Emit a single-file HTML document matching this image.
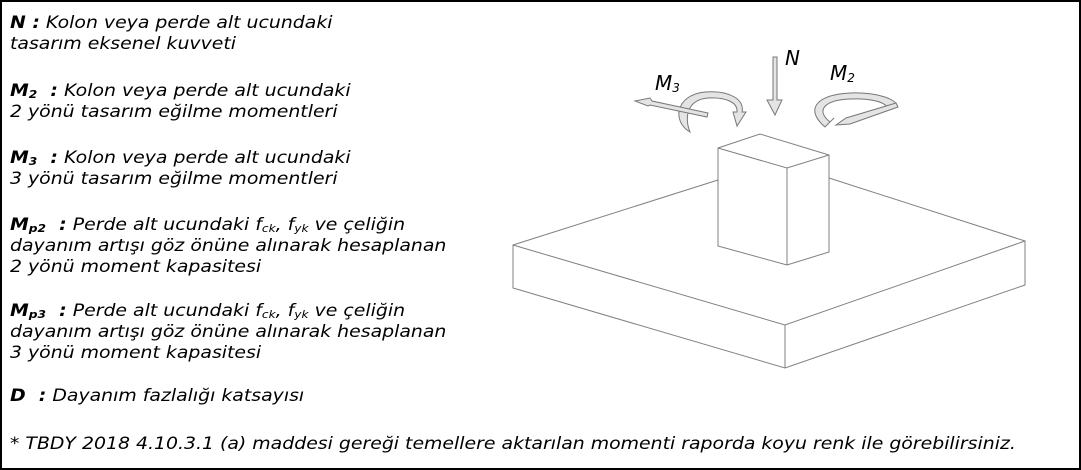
<!DOCTYPE html>
<html><head><meta charset="utf-8"><style>
html,body{margin:0;padding:0;background:#fff}
#c{position:relative;width:1081px;height:470px;overflow:hidden;background:#fff}
#frame{position:absolute;left:0;top:0;width:1077px;height:466px;border:2px solid #000}
.t{position:absolute;left:10px;font-family:"DejaVu Sans","Liberation Sans",sans-serif;font-style:italic;font-size:17px;line-height:20px;white-space:nowrap;color:#000;transform:scaleX(1.11);transform-origin:0 0}
b{font-weight:bold}
sub{font-size:11px;vertical-align:-2px;line-height:0}
</style></head><body><div id="c">
<div id="frame"></div>
<div class="t" style="top:13px"><b>N :</b> Kolon veya perde alt ucundaki</div>
<div class="t" style="top:34px">tasarım eksenel kuvveti</div>
<div class="t" style="top:81px"><b>M<sub>2</sub>&nbsp; :</b> Kolon veya perde alt ucundaki</div>
<div class="t" style="top:102px">2 yönü tasarım eğilme momentleri</div>
<div class="t" style="top:148px"><b>M<sub>3</sub>&nbsp; :</b> Kolon veya perde alt ucundaki</div>
<div class="t" style="top:169px">3 yönü tasarım eğilme momentleri</div>
<div class="t" style="top:215px"><b>M<sub>p2</sub>&nbsp; :</b> Perde alt ucundaki f<sub>ck</sub>, f<sub>yk</sub> ve çeliğin</div>
<div class="t" style="top:236px">dayanım artışı göz önüne alınarak hesaplanan</div>
<div class="t" style="top:257px">2 yönü moment kapasitesi</div>
<div class="t" style="top:301px"><b>M<sub>p3</sub>&nbsp; :</b> Perde alt ucundaki f<sub>ck</sub>, f<sub>yk</sub> ve çeliğin</div>
<div class="t" style="top:322px">dayanım artışı göz önüne alınarak hesaplanan</div>
<div class="t" style="top:343px">3 yönü moment kapasitesi</div>
<div class="t" style="top:386px"><b>D&nbsp; :</b> Dayanım fazlalığı katsayısı</div>
<div class="t" style="top:434px">* TBDY 2018 4.10.3.1 (a) maddesi gereği temellere aktarılan momenti raporda koyu renk ile görebilirsiniz.</div>
<svg width="1081" height="470" style="position:absolute;left:0;top:0">
<g fill="none" stroke="#808080" stroke-width="1">
<polygon points="513,245 785,325 1025,241 1025,285 785,368 513,288" fill="#fff"/>
<line x1="785" y1="325" x2="785" y2="368"/>
<line x1="513" y1="245" x2="718" y2="180"/>
<line x1="829" y1="178" x2="1025" y2="241"/>
<polygon points="718,148 760,134 829,155 829,252 787,265 718,246" fill="#fff"/>
<polyline points="718,148 787,168 829,155"/>
<line x1="787" y1="168" x2="787" y2="265"/>
</g>
<g stroke="#777" fill="#e4e4e4" stroke-width="1">
<polygon points="773,57 777,57 777,100 782,100 775,115 767,100 773,100"/>
<path d="M690,132 C672,122 675,95 705,92 C730,90 745,100 742,112 L746,112 L737,126 L733,112 L737,112 C738,102 725,97 708,98 C685,100 685,120 690,132 Z"/>
<path d="M635,101 L650,98 L652,101 L708,113 L707,117 L650,105 L648,106 Z"/>
<path d="M825,127 C805,110 815,95 850,93 C880,92 895,100 897,105 L888,108 C885,102 870,98 850,99 C825,100 815,110 830,122 L834,118 Z"/>
<path d="M896,103 L898,107 L850,124 L836,125 L846,118 Z"/>
</g>
<g font-family="DejaVu Sans, sans-serif" font-style="italic" font-size="20">
<text x="785" y="65">N</text>
<text x="655" y="90">M<tspan font-size="12" dy="2">3</tspan></text>
<text x="830" y="80">M<tspan font-size="12" dy="2">2</tspan></text>
</g>
</svg>
</div></body></html>
